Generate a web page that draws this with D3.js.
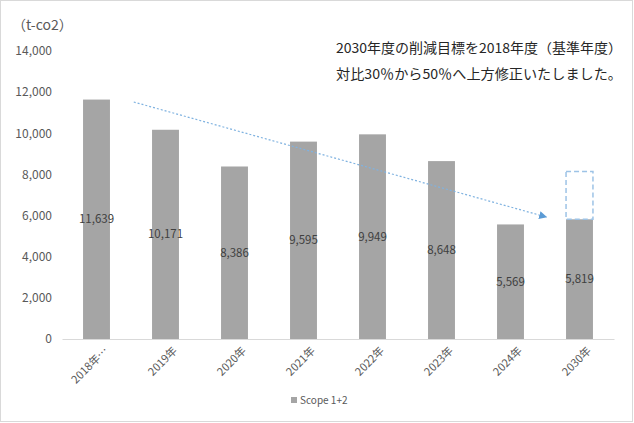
<!DOCTYPE html>
<html>
<head>
<meta charset="utf-8">
<script src="https://cdn.jsdelivr.net/npm/d3@7"></script>
<style>
  body { margin: 0; background: #fff; }
  text { font-family: "Noto Sans CJK JP", "Noto Sans", sans-serif; }
</style>
</head>
<body>
<div id="chart"></div>
<script>
// chart values
var categories = ["2018年…", "2019年", "2020年", "2021年", "2022年", "2023年", "2024年", "2030年"];
var scopeValues = [11639, 10171, 8386, 9595, 9949, 8648, 5569, 5819];
var yTicks = [0, 2000, 4000, 6000, 8000, 10000, 12000, 14000];
var oldTarget2030 = 8147;   // previous 30% target (dashed box top)
var arrowFrom = [1.04, 11520];  // [category step, value]
var arrowTo = [7.02, 5930];
var noteLines = ["2030年度の削減目標を2018年度（基準年度）", "対比30％から50％へ上方修正いたしました。"];
var unitLabel = "（t-co2）";
var seriesName = "Scope 1+2";

var width = 634, height = 423;
var margin = {top: 51, right: 20, bottom: 84, left: 62};

var svg = d3.select("#chart").append("svg")
  .attr("width", width)
  .attr("height", height);

// outer frame
svg.append("rect")
  .attr("x", 0.5).attr("y", 0.5)
  .attr("width", width - 2).attr("height", height - 2)
  .attr("fill", "#fff")
  .attr("stroke", "#d9d9d9");

var x = d3.scaleBand()
  .domain(categories)
  .range([margin.left, width - margin.right])
  .paddingInner(0.61)
  .paddingOuter(0.305);

var y = d3.scaleLinear()
  .domain([0, 14000])
  .range([height - margin.bottom, margin.top]);

var step = x.step();
var xPos = function(s){ return margin.left + s * step; };

// y axis labels (no line)
var yAxis = svg.append("g")
  .attr("transform", "translate(" + margin.left + ",0)")
  .call(d3.axisLeft(y).tickValues(yTicks).tickFormat(d3.format(",")).tickSize(0).tickPadding(10));
yAxis.select(".domain").remove();
yAxis.selectAll("text")
  .attr("fill", "#595959")
  .style("font-size", "12px");

// bars
svg.append("g").selectAll("rect")
  .data(scopeValues)
  .join("rect")
  .attr("x", function(d, i){ return x(categories[i]); })
  .attr("y", function(d){ return y(d); })
  .attr("width", x.bandwidth())
  .attr("height", function(d){ return y(0) - y(d); })
  .attr("fill", "#a5a5a5");

// x axis
var xAxis = svg.append("g")
  .attr("transform", "translate(0," + y(0) + ")")
  .call(d3.axisBottom(x).tickSize(0).tickPadding(8));
xAxis.select(".domain")
  .attr("stroke", "#d9d9d9");
xAxis.selectAll("text")
  .attr("fill", "#595959")
  .style("font-size", "11px")
  .attr("text-anchor", "end")
  .attr("dy", "0.35em")
  .attr("transform", "translate(4,4) rotate(-45)");

// data labels centered in bars
svg.append("g").selectAll("text")
  .data(scopeValues)
  .join("text")
  .attr("x", function(d, i){ return x(categories[i]) + x.bandwidth() / 2; })
  .attr("y", function(d){ return (y(d) + y(0)) / 2; })
  .attr("dy", "0.35em")
  .attr("text-anchor", "middle")
  .attr("fill", "#404040")
  .style("font-size", "11.5px")
  .text(function(d){ return d3.format(",")(d); });

// dashed box for previous target
var last = categories[categories.length - 1];
svg.append("rect")
  .attr("x", x(last))
  .attr("y", y(oldTarget2030))
  .attr("width", x.bandwidth())
  .attr("height", y(scopeValues[scopeValues.length - 1]) - y(oldTarget2030))
  .attr("fill", "none")
  .attr("stroke", "#9dc3e6")
  .attr("stroke-width", 1.5)
  .attr("stroke-dasharray", "5,3");

// trend arrow
svg.append("defs").append("marker")
  .attr("id", "arrowhead")
  .attr("viewBox", "0 0 10 10")
  .attr("refX", 9).attr("refY", 5)
  .attr("markerWidth", 8).attr("markerHeight", 8)
  .attr("markerUnits", "userSpaceOnUse")
  .attr("orient", "auto")
  .append("path")
  .attr("d", "M0,0L10,5L0,10Z")
  .attr("fill", "#5b9bd5");

svg.append("line")
  .attr("x1", xPos(arrowFrom[0])).attr("y1", y(arrowFrom[1]))
  .attr("x2", xPos(arrowTo[0])).attr("y2", y(arrowTo[1]))
  .attr("stroke", "#7fb2e0")
  .attr("stroke-width", 1.2)
  .attr("stroke-dasharray", "2,2")
  .attr("marker-end", "url(#arrowhead)");

// unit label
svg.append("text")
  .attr("x", 12).attr("y", 30)
  .attr("fill", "#595959")
  .style("font-size", "14px")
  .text(unitLabel);

// note
svg.append("g").selectAll("text")
  .data(noteLines)
  .join("text")
  .attr("x", 336)
  .attr("y", function(d, i){ return 53 + i * 26; })
  .attr("fill", "#262626")
  .style("font-size", "13.5px")
  .attr("textLength", 286)
  .attr("lengthAdjust", "spacingAndGlyphs")
  .text(function(d){ return d; });

// legend
var legend = svg.append("g").attr("transform", "translate(291,397)");
legend.append("rect")
  .attr("width", 6).attr("height", 6)
  .attr("fill", "#a5a5a5");
legend.append("text")
  .attr("x", 9).attr("y", 3)
  .attr("dy", "0.35em")
  .attr("fill", "#595959")
  .style("font-size", "10px")
  .text(seriesName);
</script>
</body>
</html>
